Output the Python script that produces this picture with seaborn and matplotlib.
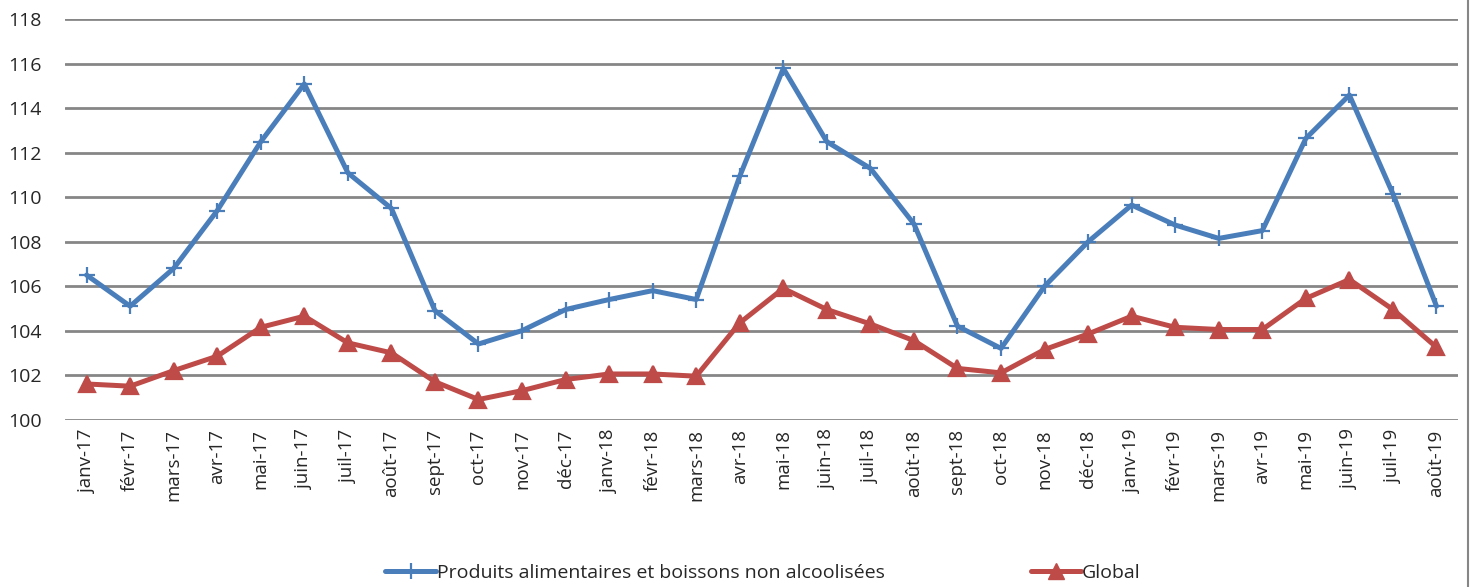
import numpy as np
import pandas as pd
import matplotlib
matplotlib.use("Agg")
import matplotlib.pyplot as plt
import seaborn as sns
from matplotlib.lines import Line2D

months = ["janv-17", "févr-17", "mars-17", "avr-17", "mai-17", "juin-17", "juil-17", "août-17",
          "sept-17", "oct-17", "nov-17", "déc-17", "janv-18", "févr-18", "mars-18", "avr-18",
          "mai-18", "juin-18", "juil-18", "août-18", "sept-18", "oct-18", "nov-18", "déc-18",
          "janv-19", "févr-19", "mars-19", "avr-19", "mai-19", "juin-19", "juil-19", "août-19"]

alim = [106.5, 105.1, 106.8, 109.4, 112.5, 115.1, 111.1, 109.5,
        104.9, 103.4, 104.0, 104.95, 105.4, 105.8, 105.4, 110.95,
        115.8, 112.5, 111.3, 108.8, 104.2, 103.2, 106.0, 108.0,
        109.65, 108.75, 108.15, 108.5, 112.65, 114.6, 110.15, 105.1]

glob = [101.6, 101.5, 102.2, 102.85, 104.15, 104.65, 103.45, 103.0,
        101.7, 100.9, 101.3, 101.8, 102.05, 102.05, 101.95, 104.35,
        105.9, 104.95, 104.3, 103.55, 102.3, 102.1, 103.15, 103.85,
        104.65, 104.15, 104.05, 104.05, 105.45, 106.3, 104.95, 103.25]

series_names = ["Produits alimentaires et boissons non alcoolisées", "Global"]
colors = ["#4A7EBB", "#BE4B48"]
markers = ["+", "^"]

pos = list(range(len(months)))

sns.set_style("white")
plt.rcParams["font.family"] = ["Open Sans", "DejaVu Sans"]

fig = plt.figure(figsize=(14.73, 5.87), dpi=100)
ax = fig.add_axes([0.044, 0.2853, 0.946, 0.6815])

for vals, c, m in zip([alim, glob], colors, markers):
    sns.lineplot(x=pos, y=vals, color=c, marker=m, linewidth=3.6,
                 markersize=11, markeredgewidth=1.6, markeredgecolor=c,
                 markerfacecolor=c, ax=ax, zorder=3)

ax.set_ylim(100, 118)
ax.set_yticks(np.arange(100, 119, 2))
ax.set_xlim(-0.5, len(months) - 0.5)
ax.set_xticks(pos)
ax.set_xticklabels(months, rotation=90, fontsize=13.5)
ax.tick_params(axis="y", labelsize=14, length=0, pad=41)
ax.tick_params(axis="x", length=0, pad=7)
ax.set_xlabel("")
ax.set_ylabel("")
for lab in ax.get_yticklabels():
    lab.set_horizontalalignment("left")
ax.yaxis.grid(True, color="#868686", linewidth=2)
ax.xaxis.grid(False)
sns.despine(ax=ax, left=True, bottom=True, right=True, top=True)

# chart frame right edge
fig.add_artist(Line2D([1468 / 1473, 1468 / 1473], [0, 1], color="#868686", linewidth=1.5))

handles = [Line2D([], [], color=colors[0], marker="+", markersize=11, markeredgewidth=1.6, linewidth=3.6),
           Line2D([], [], color=colors[1], marker="^", markersize=11, linewidth=3.6)]
fig.legend(handles, series_names, loc="center", bbox_to_anchor=(0.518, 0.024), ncol=2,
           frameon=False, fontsize=14, handlelength=2.6, handletextpad=0.05,
           columnspacing=7.5)

fig.savefig("out.png", dpi=100)
